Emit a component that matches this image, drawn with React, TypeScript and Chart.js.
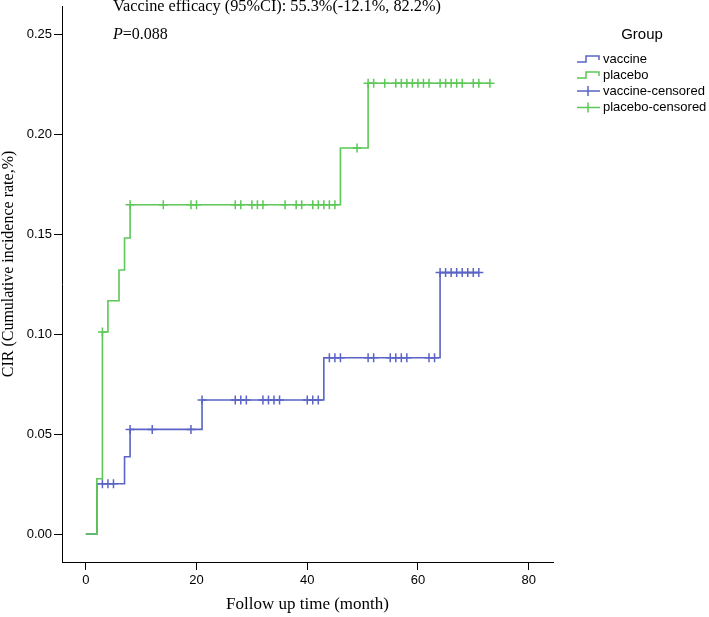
import React, { useEffect, useRef } from "react";
import { Chart, registerables } from "chart.js";

Chart.register(...registerables);

// ---- data ----
const xTickValues = [0, 20, 40, 60, 80];
const yTickValues = [0, 0.05, 0.1, 0.15, 0.2, 0.25];

const vaccineTimes = [0, 2, 7, 8, 21, 43, 64, 71];
const vaccineCIR = [0, 0.0251, 0.0386, 0.0523, 0.067, 0.0881, 0.1307, 0.1307];
const vaccineCensoredTimes = [
  3, 4, 5, 8, 12, 19, 21, 27, 28, 29, 32, 33, 34, 35, 40, 41, 42, 44, 45, 46,
  51, 52, 55, 56, 57, 58, 62, 63, 64, 65, 66, 67, 68, 69, 70, 71,
];

const placeboTimes = [0, 2, 3, 4, 6, 7, 8, 46, 51, 73];
const placeboCIR = [0, 0.0276, 0.101, 0.1166, 0.132, 0.148, 0.1646, 0.193, 0.2254, 0.2254];
const placeboCensoredTimes = [
  3, 8, 14, 19, 20, 27, 28, 30, 31, 32, 36, 38, 39, 41, 42, 43, 44, 45, 49,
  51, 52, 54, 56, 57, 58, 59, 60, 61, 62, 64, 65, 66, 67, 68, 70, 71, 73,
];

const legendTitle = "Group";
const legendLabels = ["vaccine", "placebo", "vaccine-censored", "placebo-censored"];
const efficacyText = "Vaccine efficacy (95%CI): 55.3%(-12.1%, 82.2%)";
const pLabel = "P";
const pValueText = "=0.088";
const yTitle = "CIR (Cumulative incidence rate,%)";
const xTitle = "Follow up time (month)";

const BLUE = "#5a64c6";
const GREEN = "#5cc857";

function stepValue(times: number[], vals: number[], t: number): number {
  let v = vals[0];
  for (let i = 0; i < times.length; i++) {
    if (times[i] <= t) v = vals[i];
  }
  return v;
}

const annotationPlugin = {
  id: "kmAnnotations",
  afterDraw(chart: any) {
    const ctx = chart.ctx as CanvasRenderingContext2D;
    ctx.save();
    ctx.fillStyle = "#000";
    ctx.textBaseline = "alphabetic";
    ctx.textAlign = "left";
    ctx.font = "16.3px 'Liberation Serif'";
    ctx.fillText(efficacyText, 113, 11);
    ctx.font = "italic 16px 'Liberation Serif'";
    ctx.fillText(pLabel, 113, 39);
    const pw = ctx.measureText(pLabel).width;
    ctx.font = "16px 'Liberation Serif'";
    ctx.fillText(pValueText, 113 + pw, 39);

    // y-axis title
    ctx.save();
    ctx.translate(8.5, 264);
    ctx.rotate(-Math.PI / 2);
    ctx.textAlign = "center";
    ctx.textBaseline = "middle";
    ctx.font = "16px 'Liberation Serif'";
    ctx.fillText(yTitle, 0, 0);
    ctx.restore();

    // legend
    ctx.font = "15px 'Liberation Sans'";
    ctx.textAlign = "center";
    ctx.textBaseline = "middle";
    ctx.fillText(legendTitle, 642, 35);
    const rows = [59, 75, 91, 107.5];
    const colors = [BLUE, GREEN, BLUE, GREEN];
    ctx.font = "13px 'Liberation Sans'";
    ctx.textAlign = "left";
    for (let i = 0; i < legendLabels.length; i++) {
      const y = rows[i];
      ctx.strokeStyle = colors[i];
      ctx.lineWidth = 1.5;
      ctx.beginPath();
      if (i < 2) {
        ctx.moveTo(577, y + 3);
        ctx.lineTo(586, y + 3);
        ctx.lineTo(586, y - 3);
        ctx.lineTo(599, y - 3);
        ctx.lineTo(599, y + 1);
      } else {
        ctx.moveTo(577, y);
        ctx.lineTo(600, y);
        ctx.moveTo(588, y - 5);
        ctx.lineTo(588, y + 5);
      }
      ctx.stroke();
      ctx.fillStyle = "#000";
      ctx.fillText(legendLabels[i], 603, y);
    }
    ctx.restore();
  },
};

export default function App() {
  const canvasRef = useRef<HTMLCanvasElement | null>(null);

  useEffect(() => {
    if (!canvasRef.current) return;
    const vaccineLine = vaccineTimes.map((t, i) => ({ x: t, y: vaccineCIR[i] }));
    const placeboLine = placeboTimes.map((t, i) => ({ x: t, y: placeboCIR[i] }));
    const vaccineCens = vaccineCensoredTimes.map((t) => ({
      x: t,
      y: stepValue(vaccineTimes, vaccineCIR, t),
    }));
    const placeboCens = placeboCensoredTimes.map((t) => ({
      x: t,
      y: stepValue(placeboTimes, placeboCIR, t),
    }));

    const tickFont = { family: "'Liberation Sans'", size: 13 };
    const titleFont = { family: "'Liberation Serif'", size: 17 };

    const chart = new Chart(canvasRef.current, {
      type: "line",
      data: {
        datasets: [
          {
            label: "placebo-censored",
            data: placeboCens,
            showLine: false,
            pointStyle: "cross",
            pointRadius: 4.5,
            pointBorderWidth: 1.5,
            borderColor: GREEN,
            backgroundColor: GREEN,
            order: 0,
          },
          {
            label: "placebo",
            data: placeboLine,
            stepped: true,
            borderColor: GREEN,
            borderWidth: 1.6,
            pointRadius: 0,
            fill: false,
            order: 1,
          },
          {
            label: "vaccine-censored",
            data: vaccineCens,
            showLine: false,
            pointStyle: "cross",
            pointRadius: 4.5,
            pointBorderWidth: 1.5,
            borderColor: BLUE,
            backgroundColor: BLUE,
            order: 2,
          },
          {
            label: "vaccine",
            data: vaccineLine,
            stepped: true,
            borderColor: BLUE,
            borderWidth: 1.6,
            pointRadius: 0,
            fill: false,
            order: 3,
          },
        ],
      },
      options: {
        animation: false,
        responsive: false,
        devicePixelRatio: 1,
        layout: { padding: { left: 0, right: 156, top: 5, bottom: 0 } },
        plugins: {
          legend: { display: false },
          tooltip: { enabled: false },
        },
        scales: {
          x: {
            type: "linear",
            min: -4.3,
            max: 84.4,
            afterBuildTicks: (s: any) => {
              s.ticks = xTickValues.map((v) => ({ value: v }));
            },
            afterFit: (s: any) => {
              s.height = 55;
              s.paddingLeft = 0;
              s.paddingRight = 0;
            },
            grid: {
              display: true,
              drawOnChartArea: false,
              drawTicks: true,
              tickLength: 8,
              tickColor: "#000",
              tickWidth: 1,
            },
            border: { display: true, color: "#000", width: 1 },
            ticks: {
              color: "#000",
              font: tickFont,
              padding: 3,
              maxRotation: 0,
              callback: (v: any) => String(v),
            },
            title: {
              display: true,
              text: xTitle,
              color: "#000",
              font: titleFont,
              padding: { top: 0, bottom: 2 },
            },
          },
          y: {
            type: "linear",
            min: -0.014,
            max: 0.264,
            afterBuildTicks: (s: any) => {
              s.ticks = yTickValues.map((v) => ({ value: v }));
            },
            afterFit: (s: any) => {
              s.width = 62;
              s.paddingTop = 0;
              s.paddingBottom = 0;
            },
            grid: {
              display: true,
              drawOnChartArea: false,
              drawTicks: true,
              tickLength: 8,
              tickColor: "#000",
              tickWidth: 1,
            },
            border: { display: true, color: "#000", width: 1 },
            ticks: {
              color: "#000",
              font: tickFont,
              padding: 2,
              callback: (v: any) => Number(v).toFixed(2),
            },
            title: { display: false },
          },
        },
      },
      plugins: [annotationPlugin],
    });
    return () => chart.destroy();
  }, []);

  return (
    <div style={{ position: "absolute", left: 0, top: 0, width: 709, height: 617, background: "#fff" }}>
      <canvas ref={canvasRef} width={709} height={617} style={{ width: 709, height: 617 }} />
    </div>
  );
}
